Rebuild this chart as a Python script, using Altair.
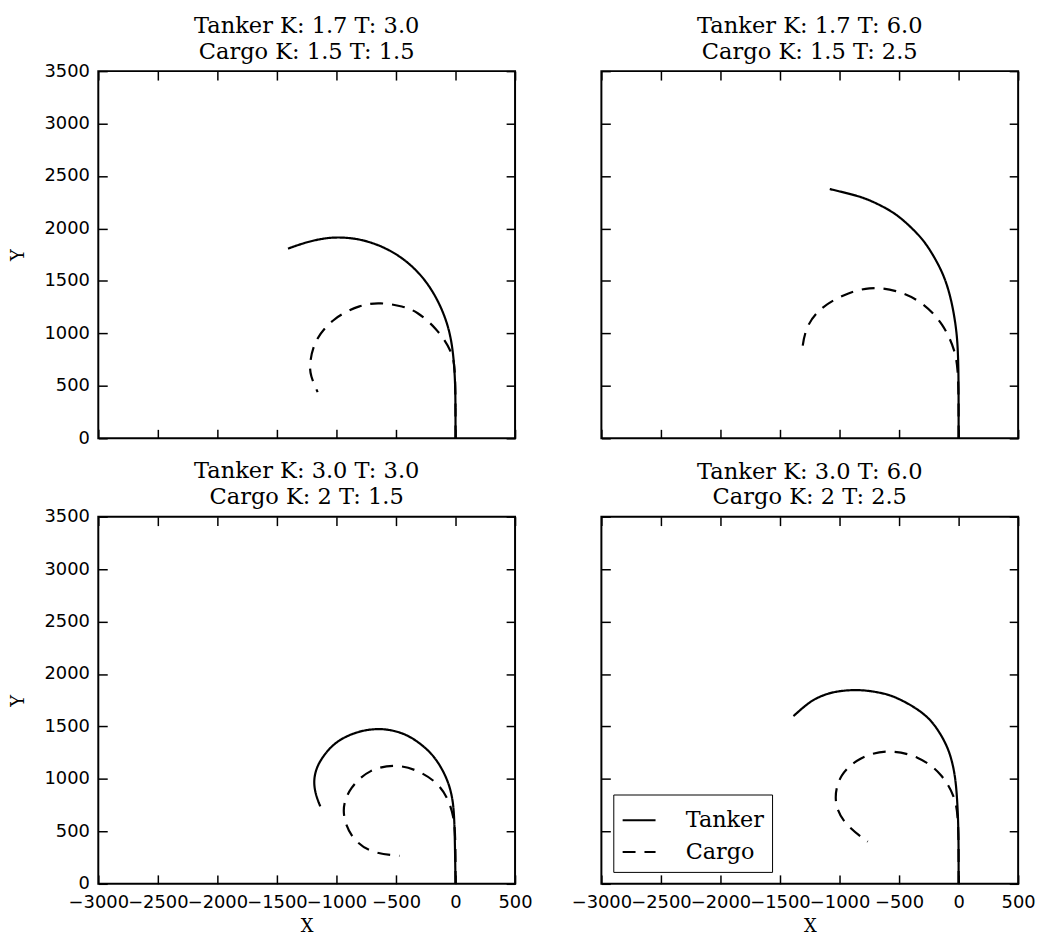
import altair as alt
import pandas as pd

X_DOMAIN = [-3000, 500]
Y_DOMAIN = [0, 3500]
X_TICKS = [-3000, -2500, -2000, -1500, -1000, -500, 0, 500]
Y_TICKS = [0, 500, 1000, 1500, 2000, 2500, 3000, 3500]
SERIES = ["Tanker", "Cargo"]

TITLES = [
    ["Tanker K: 1.7 T: 3.0", "Cargo K: 1.5 T: 1.5"],
    ["Tanker K: 1.7 T: 6.0", "Cargo K: 1.5 T: 2.5"],
    ["Tanker K: 3.0 T: 3.0", "Cargo K: 2 T: 1.5"],
    ["Tanker K: 3.0 T: 6.0", "Cargo K: 2 T: 2.5"],
]

# Panel 1 (top-left)
p1_tanker_x = [0, 0, -8, -22, -50, -105, -188, -299, -437, -576, -715, -853, -1006, -1131, -1269, -1407]
p1_tanker_y = [0, 425, 644, 833, 1022, 1210, 1399, 1572, 1713, 1808, 1871, 1908, 1918, 1902, 1864, 1808]
p1_cargo_x = [0, 0, -5, -22, -160, -327, -437, -632, -798, -1019, -1185, -1227, -1219, -1158]
p1_cargo_y = [0, 400, 650, 818, 1053, 1210, 1258, 1296, 1274, 1154, 943, 708, 597, 440]

# Panel 2 (top-right)
p2_tanker_x = [0, 0, -5, -14, -42, -83, -138, -221, -305, -416, -527, -666, -804, -943, -1082]
p2_tanker_y = [0, 582, 803, 991, 1211, 1416, 1589, 1762, 1904, 2030, 2140, 2228, 2297, 2338, 2376]
p2_cargo_x = [0, 0, -6, -28, -125, -305, -527, -749, -971, -1166, -1291, -1318]
p2_cargo_y = [0, 400, 650, 834, 1086, 1306, 1416, 1448, 1369, 1243, 1054, 803]

# Panel 3 (bottom-left)
p3_tanker_x = [0, -6, -14, -28, -56, -111, -194, -305, -416, -554, -692, -831, -970, -1067, -1136, -1170, -1192, -1178, -1136]
p3_tanker_y = [0, 482, 702, 827, 954, 1095, 1237, 1347, 1426, 1473, 1479, 1448, 1379, 1284, 1174, 1095, 985, 859, 739]
p3_cargo_x = [0, 0, -10, -56, -139, -305, -499, -721, -887, -964, -887, -721, -471]
p3_cargo_y = [0, 400, 620, 796, 954, 1079, 1143, 1095, 922, 702, 449, 293, 267]

# Panel 4 (bottom-right)
p4_tanker_x = [0, 0, -5, -22, -55, -97, -166, -250, -361, -471, -583, -721, -860, -1027, -1124, -1220, -1304, -1387]
p4_tanker_y = [0, 400, 668, 982, 1174, 1315, 1457, 1583, 1677, 1747, 1804, 1836, 1852, 1836, 1804, 1757, 1684, 1599]
p4_cargo_x = [0, 0, -6, -28, -138, -333, -610, -833, -999, -1054, -971, -763]
p4_cargo_y = [0, 400, 640, 825, 1048, 1221, 1284, 1205, 1048, 796, 576, 402]

CURVES = {
    0: {"Tanker": (p1_tanker_x, p1_tanker_y), "Cargo": (p1_cargo_x, p1_cargo_y)},
    1: {"Tanker": (p2_tanker_x, p2_tanker_y), "Cargo": (p2_cargo_x, p2_cargo_y)},
    2: {"Tanker": (p3_tanker_x, p3_tanker_y), "Cargo": (p3_cargo_x, p3_cargo_y)},
    3: {"Tanker": (p4_tanker_x, p4_tanker_y), "Cargo": (p4_cargo_x, p4_cargo_y)},
}

rows = []
for p, series in CURVES.items():
    for s, (xs, ys) in series.items():
        for i, (xv, yv) in enumerate(zip(xs, ys)):
            rows.append({"panel": p, "series": s, "order": i, "x": xv, "y": yv})
df = pd.DataFrame(rows)

W, H = 420, 370
SERIF = "DejaVu Serif"
SANS = "DejaVu Sans"
TICK = 9


def panel(i, show_x, show_y, legend):
    d = df[df.panel == i]
    base = alt.Chart(d)
    xs = alt.Scale(domain=X_DOMAIN, nice=False, zero=False)
    ys = alt.Scale(domain=Y_DOMAIN, nice=False, zero=False)
    xaxis = alt.Axis(orient="bottom", values=X_TICKS, format="d", labels=show_x,
                     title="X" if show_x else None, offset=-TICK, tickSize=TICK,
                     labelPadding=10, titlePadding=6, labelOverlap=False, labelFlush=False)
    yaxis = alt.Axis(orient="left", values=Y_TICKS, format="d", labels=show_y,
                     title="Y" if show_y else None, offset=-TICK, tickSize=TICK,
                     labelPadding=9, titlePadding=17, labelOverlap=False, labelFlush=False)
    if legend:
        leg = alt.Legend(orient="bottom-left", title=None, symbolType="stroke",
                         symbolSize=1100, symbolStrokeWidth=2, symbolStrokeColor="black",
                         labelFont=SERIF, labelFontSize=22.5, labelColor="black",
                         strokeColor="black", fillColor="white", padding=8,
                         offset=12, rowPadding=2, labelOffset=29)
    else:
        leg = None
    lines = base.mark_line(color="black", strokeWidth=2.2, interpolate="basis").encode(
        x=alt.X("x:Q", scale=xs, axis=xaxis),
        y=alt.Y("y:Q", scale=ys, axis=yaxis),
        strokeDash=alt.StrokeDash("series:N",
                                  scale=alt.Scale(domain=SERIES, range=[[1, 0], [13, 9]]),
                                  legend=leg),
        order="order:Q",
    )
    frame = base.mark_line(opacity=0).encode(
        x=alt.X("x:Q", scale=xs, axis=alt.Axis(orient="top", values=X_TICKS, labels=False,
                                               title=None, offset=-TICK, tickSize=TICK)),
        y=alt.Y("y:Q", scale=ys, axis=alt.Axis(orient="right", values=Y_TICKS, labels=False,
                                               title=None, offset=-TICK, tickSize=TICK)),
        detail="series:N",
        order="order:Q",
    )
    return alt.layer(lines, frame).resolve_axis(x="independent", y="independent").properties(
        width=W, height=H,
        title=alt.TitleParams(text=TITLES[i], font=SERIF, fontSize=22.7, fontWeight="normal",
                              lineHeight=26, offset=-1 if show_y else 7, color="black",
                              anchor="middle", frame="group"),
    )


top = alt.hconcat(panel(0, False, True, False), panel(1, False, False, False), spacing=83
                  ).resolve_scale(strokeDash="independent").resolve_legend(strokeDash="independent")
bottom = alt.hconcat(panel(2, True, True, False), panel(3, True, False, True), spacing=36
                     ).resolve_scale(strokeDash="independent").resolve_legend(strokeDash="independent")

chart = alt.vconcat(top, bottom, spacing=11).resolve_scale(
    strokeDash="independent").resolve_legend(strokeDash="independent").properties(
    padding={"left": 0, "top": 2, "right": 0, "bottom": 0}
).configure_view(
    stroke="black", strokeWidth=2
).configure_axis(
    grid=False, domain=False, tickColor="black", tickWidth=1.5,
    labelFont=SANS, labelFontSize=18, labelColor="black",
    titleFont=SERIF, titleFontSize=18, titleFontWeight="normal", titleColor="black",
)

chart.save("out.html", embed_options={"renderer": "svg", "actions": False})
